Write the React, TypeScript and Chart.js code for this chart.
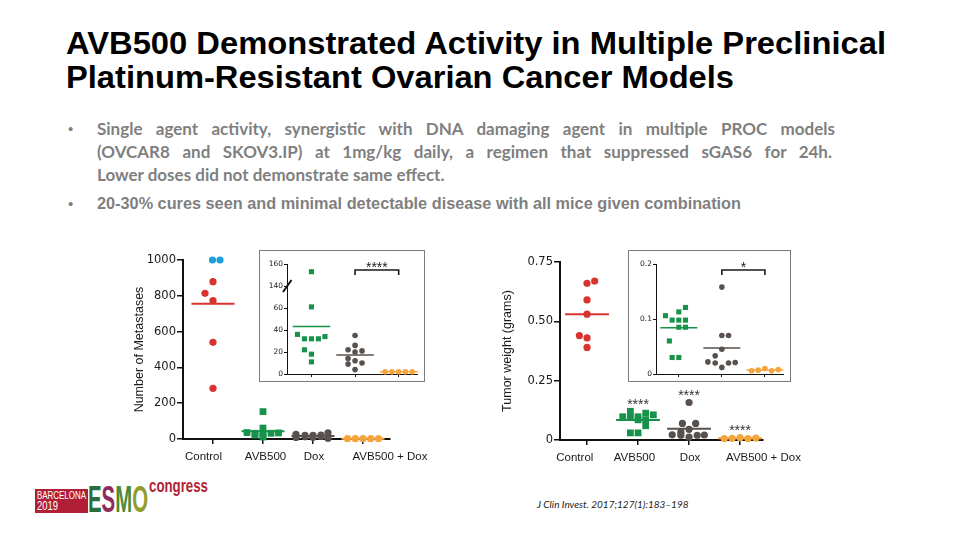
import React, { useEffect, useLayoutEffect, useRef } from 'react';
import { Chart, registerables } from 'chart.js';

Chart.register(...registerables);

// ---------------- DATA ----------------
const categories = ['Control', 'AVB500', 'Dox', 'AVB500 + Dox'];

// Left: Number of metastases (main + inset with broken axis)
const metControl = [879, 814, 773, 540, 283];
const metControlJitter = [0, -0.16, 0, 0, 0];
const metControlCapped = [1000, 1000];
const metControlCappedJitter = [-0.01, 0.14];
const metAvb = [153, 61, 36, 32, 32, 32, 34, 22, 18, 11];
const metAvbJitter = [0, 0, -0.32, -0.16, 0, 0.16, 0.31, -0.16, 0, 0];
const metDox = [35, 26, 22, 21, 20, 14, 12, 10, 9, 4];
const metDoxJitterMain = [0.3, -0.34, 0.16, -0.16, 0, 0.16, -0.16, 0, -0.34, 0.3];
const metDoxJitterInset = [0, 0, -0.16, 0.16, 0, -0.16, 0, 0.16, -0.16, 0];
const metCombo = [2, 2, 2, 2, 2];
const metComboJitter = [-0.31, -0.155, 0, 0.155, 0.31];
const metTicks = [0, 200, 400, 600, 800, 1000];
const metInsetTicks = [0, 20, 40, 60, 140, 160];
const metInsetBreak = [60, 140];
const metInsetSig = '****';

// Right: Tumor weight (grams)
const twControl = [0.67, 0.66, 0.59, 0.53, 0.44, 0.43, 0.39];
const twControlJitter = [0.15, 0, 0, 0, -0.15, 0, 0];
const twAvb = [0.121, 0.113, 0.106, 0.098, 0.098, 0.098, 0.085, 0.085, 0.06, 0.03, 0.03];
const twAvbJitterMain = [-0.15, 0.15, 0.3, -0.3, 0, -0.15, 0, 0.15, 0.15, -0.15, 0];
const twAvbJitterInset = [0.155, 0, -0.31, -0.155, 0, 0.155, 0, 0.155, -0.22, -0.155, 0];
const twDox = [0.158, 0.07, 0.07, 0.045, 0.033, 0.022, 0.021, 0.02, 0.02, 0.012];
const twDoxJitterMain = [0, -0.13, 0.13, 0, -0.16, -0.33, 0.3, -0.16, 0.16, 0];
const twDoxJitterInset = [0, 0, 0.155, 0, -0.155, -0.325, 0.31, -0.155, 0.155, 0];
const twCombo = [0.006, 0.007, 0.01, 0.006, 0.008];
const twComboJitter = [-0.31, -0.155, 0, 0.155, 0.31];
const twTicks = [0, 0.25, 0.5, 0.75];
const twInsetTicks = [0, 0.1, 0.2];
const twMainSig = ['****', '****', '****'];
const twInsetSig = '*';

// ---------------- STYLE ----------------
const RED = '#d8332c';
const BLUE = '#1e9fdc';
const GREEN = '#17924a';
const GRAY = '#58514d';
const ORANGE = '#f5a53d';
const AXIS = '#111111';
const TXT = '#1a1a1a';
const ARIAL = '"Liberation Sans", Arial, sans-serif';

const mean = (a: number[]) => a.reduce((s, v) => s + v, 0) / a.length;
const pts = (vals: number[], cat: number, jit: number[], map = (v: number) => v) =>
  vals.map((v, i) => ({ x: cat + (jit[i] || 0), y: map(v) }));
const dots = (data: any[], color: string, style: string, r: number) => ({
  data, pointStyle: style, pointRadius: r, backgroundColor: color, borderColor: color,
  borderWidth: 0, clip: false, showLine: false,
});
const HALF = 0.43;
const meanLine = (vals: number[], cat: number, color: string, w: number, map = (v: number) => v) => {
  const m = map(mean(vals));
  return {
    data: [{ x: cat - HALF, y: m }, { x: cat + HALF, y: m }],
    showLine: true, borderColor: color, borderWidth: w, pointRadius: 0, clip: false,
  };
};

// broken-axis transform for the metastasis inset
const brk = (v: number) => (v >= metInsetBreak[1] ? v - (metInsetBreak[1] - metInsetBreak[0]) + 20 : v);
const unbrk = (d: number) => (d > metInsetBreak[0] + 10 ? d + (metInsetBreak[1] - metInsetBreak[0]) - 20 : d);

const annotPlugin = (a: any) => ({
  id: 'annot',
  afterDatasetsDraw(chart: any) {
    const { ctx, chartArea } = chart;
    const x = chart.scales.x;
    const y = chart.scales.y;
    ctx.save();
    if (a.bracket) {
      const b = a.bracket;
      const x1 = x.getPixelForValue(b.from);
      const x2 = x.getPixelForValue(b.to);
      const yy = chartArea.top + 6;
      ctx.strokeStyle = '#1a1a1a';
      ctx.lineWidth = 1.6;
      ctx.beginPath();
      ctx.moveTo(x1, yy + 5); ctx.lineTo(x1, yy); ctx.lineTo(x2, yy); ctx.lineTo(x2, yy + 5);
      ctx.stroke();
      ctx.fillStyle = '#222';
      ctx.font = '14px "Liberation Sans", sans-serif';
      ctx.textAlign = 'center';
      ctx.textBaseline = 'alphabetic';
      ctx.fillText(b.text, (x1 + x2) / 2, yy + 1.5);
    }
    (a.stars || []).forEach((s: any) => {
      ctx.fillStyle = '#333';
      ctx.font = '14px "Liberation Sans", sans-serif';
      ctx.textAlign = 'center';
      ctx.textBaseline = 'alphabetic';
      ctx.fillText(s.text, x.getPixelForValue(s.x), y.getPixelForValue(s.y) - 2.5);
    });
    if (a.breakAt != null) {
      const yy = y.getPixelForValue(a.breakAt);
      const xx = chartArea.left;
      ctx.strokeStyle = '#111';
      ctx.lineWidth = 2;
      ctx.beginPath();
      ctx.moveTo(xx - 4, yy + 6);
      ctx.lineTo(xx + 4.5, yy - 6);
      ctx.stroke();
    }
    ctx.restore();
  },
});

function buildChart(canvas: HTMLCanvasElement, c: any) {
  const scales: any = {
    x: {
      type: 'linear', min: c.xMin, max: c.xMax, position: 'bottom', weight: 0,
      afterBuildTicks: (s: any) => { s.ticks = c.catTicks.map((v: number) => ({ value: v })); },
      ticks: { display: false },
      grid: { drawOnChartArea: false, drawTicks: true, tickLength: c.xTickLen, color: AXIS, lineWidth: c.tickW },
      border: { display: true, color: AXIS, width: c.axisW },
      afterFit: (s: any) => { s.height = c.xAxisH; },
    },
    y: {
      type: 'linear', min: c.yMin, max: c.yMax,
      afterBuildTicks: (s: any) => { s.ticks = c.yTickValues.map((v: number) => ({ value: v })); },
      ticks: { callback: (v: number) => c.yLabel(v), font: c.tickFont, color: TXT, padding: c.tickPad, autoSkip: false },
      grid: { drawOnChartArea: false, drawTicks: true, tickLength: c.yTickLen, color: AXIS, lineWidth: c.tickW },
      border: { display: true, color: AXIS, width: c.axisW },
      title: c.yTitle
        ? { display: true, text: c.yTitle, font: c.titleFont, color: TXT, padding: { top: c.titlePad, bottom: 0 } }
        : { display: false },
      afterFit: (s: any) => { s.width = c.leftW; },
    },
  };
  if (c.labels) {
    scales.xl = {
      type: 'linear', min: c.xMin, max: c.xMax, position: 'bottom', weight: 1,
      afterBuildTicks: (s: any) => { s.ticks = c.labelTicks.map((v: number) => ({ value: v })); },
      ticks: {
        callback: (_v: number, i: number) => c.labels[i], font: c.labelFont, color: TXT,
        padding: c.labelPad, autoSkip: false, maxRotation: 0, minRotation: 0,
      },
      grid: { display: false, drawTicks: false },
      border: { display: false },
      afterFit: (s: any) => { s.height = c.labelH; },
    };
  }
  return new Chart(canvas, {
    type: 'scatter',
    data: { datasets: c.datasets },
    options: {
      responsive: false,
      animation: false,
      events: [],
      layout: { padding: { top: c.padTop, right: c.padRight, left: 0, bottom: 0 } },
      plugins: { legend: { display: false }, tooltip: { enabled: false } },
      scales,
    } as any,
    plugins: [annotPlugin(c.annot || {})],
  });
}

const mainTickFont = { family: '"DejaVu Sans", sans-serif', size: 11.5 };
const insetTickFont = { family: '"DejaVu Sans", sans-serif', size: 7.5 };
const labelFont = { family: ARIAL, size: 11.5 };
const titleFont = { family: ARIAL, size: 12.5 };

// Text condensed horizontally to a given width (narrow fonts are not installed)
function FitText({ left, top, width, style, children }: any) {
  const ref = useRef<HTMLSpanElement>(null);
  useLayoutEffect(() => {
    const el = ref.current;
    if (!el) return;
    el.style.transform = 'none';
    const w = el.getBoundingClientRect().width;
    if (w > 0) el.style.transform = `scaleX(${width / w})`;
  }, [width]);
  return (
    <span
      ref={ref}
      style={{
        position: 'absolute', left, top, whiteSpace: 'nowrap', display: 'inline-block',
        transformOrigin: '0 0', ...style,
      }}
    >
      {children}
    </span>
  );
}

export default function App() {
  const c1 = useRef<HTMLCanvasElement>(null);
  const c2 = useRef<HTMLCanvasElement>(null);
  const c3 = useRef<HTMLCanvasElement>(null);
  const c4 = useRef<HTMLCanvasElement>(null);

  useEffect(() => {
    const charts: Chart[] = [];
    const allMetControl = [...metControlCapped, ...metControl];

    // Left main chart
    charts.push(buildChart(c1.current!, {
      xMin: 0.4, xMax: 4.54, yMin: 0, yMax: 1000, yTickValues: metTicks,
      yLabel: (v: number) => String(v),
      leftW: 63, padTop: 12, padRight: 50, xAxisH: 5, labelH: 29,
      catTicks: [1, 2, 3, 4], labelTicks: [0.81, 2.05, 3.02, 4.54], labels: categories,
      labelFont, labelPad: 6, tickFont: mainTickFont, tickPad: 1, xTickLen: 5, yTickLen: 6,
      tickW: 1.5, axisW: 2, yTitle: 'Number of Metastases', titleFont, titlePad: 12,
      datasets: [
        meanLine(allMetControl, 1, RED, 2),
        meanLine(metAvb, 2, GREEN, 2),
        meanLine(metDox, 3, GRAY, 2),
        meanLine(metCombo, 4, ORANGE, 2),
        dots(pts(metControl, 1, metControlJitter), RED, 'circle', 3.6),
        dots(pts(metControlCapped, 1, metControlCappedJitter), BLUE, 'circle', 3.6),
        dots(pts(metAvb, 2, metAvbJitter), GREEN, 'rect', 4.8),
        dots(pts(metDox, 3, metDoxJitterMain), GRAY, 'circle', 3.6),
        dots(pts(metCombo, 4, metComboJitter), ORANGE, 'circle', 3.6),
      ],
    }));

    // Left inset (broken axis)
    charts.push(buildChart(c2.current!, {
      xMin: 0.44, xMax: 3.42, yMin: 0, yMax: brk(metInsetTicks[metInsetTicks.length - 1]),
      yTickValues: metInsetTicks.map(brk), yLabel: (d: number) => String(unbrk(d)),
      leftW: 27, padTop: 13, padRight: 7, xAxisH: 7,
      catTicks: [1, 2, 3], tickFont: insetTickFont, tickPad: 1, xTickLen: 3, yTickLen: 3,
      tickW: 1, axisW: 1,
      annot: { bracket: { from: 2, to: 3, text: metInsetSig }, breakAt: brk(metInsetBreak[1]) },
      datasets: [
        meanLine(metAvb, 1, GREEN, 1.5, brk),
        meanLine(metDox, 2, GRAY, 1.5, brk),
        meanLine(metCombo, 3, ORANGE, 1.5, brk),
        dots(pts(metAvb, 1, metAvbJitter, brk), GREEN, 'rect', 3.6),
        dots(pts(metDox, 2, metDoxJitterInset, brk), GRAY, 'circle', 2.8),
        dots(pts(metCombo, 3, metComboJitter, brk), ORANGE, 'circle', 2.8),
      ],
    }));

    // Right main chart
    charts.push(buildChart(c3.current!, {
      xMin: 0.47, xMax: 4.45, yMin: 0, yMax: 0.75, yTickValues: twTicks,
      yLabel: (v: number) => (v === 0 ? '0' : v.toFixed(2)),
      leftW: 70, padTop: 14, padRight: 47, xAxisH: 5, labelH: 28,
      catTicks: [1, 2, 3, 4], labelTicks: [0.76, 1.93, 3.02, 4.46], labels: categories,
      labelFont, labelPad: 6, tickFont: mainTickFont, tickPad: 1, xTickLen: 5, yTickLen: 6,
      tickW: 1.5, axisW: 2, yTitle: 'Tumor weight (grams)', titleFont, titlePad: 10,
      annot: {
        stars: [
          { x: 2, y: Math.max(...twAvb), text: twMainSig[0] },
          { x: 3, y: Math.max(...twDox), text: twMainSig[1] },
          { x: 4, y: Math.max(...twCombo), text: twMainSig[2] },
        ],
      },
      datasets: [
        meanLine(twControl, 1, RED, 2),
        meanLine(twAvb, 2, GREEN, 2),
        meanLine(twDox, 3, GRAY, 2),
        meanLine(twCombo, 4, ORANGE, 2),
        dots(pts(twControl, 1, twControlJitter), RED, 'circle', 3.6),
        dots(pts(twAvb, 2, twAvbJitterMain), GREEN, 'rect', 4.8),
        dots(pts(twDox, 3, twDoxJitterMain), GRAY, 'circle', 3.6),
        dots(pts(twCombo, 4, twComboJitter), ORANGE, 'circle', 3.6),
      ],
    }));

    // Right inset
    charts.push(buildChart(c4.current!, {
      xMin: 0.47, xMax: 3.42, yMin: 0, yMax: 0.2, yTickValues: twInsetTicks,
      yLabel: (v: number) => (v === 0 ? '0' : v.toFixed(1)),
      leftW: 27, padTop: 13, padRight: 7, xAxisH: 7,
      catTicks: [1, 2, 3], tickFont: insetTickFont, tickPad: 1, xTickLen: 3, yTickLen: 3,
      tickW: 1, axisW: 1,
      annot: { bracket: { from: 2, to: 3, text: twInsetSig } },
      datasets: [
        meanLine(twAvb, 1, GREEN, 1.5),
        meanLine(twDox, 2, GRAY, 1.5),
        meanLine(twCombo, 3, ORANGE, 1.5),
        dots(pts(twAvb, 1, twAvbJitterInset), GREEN, 'rect', 3.6),
        dots(pts(twDox, 2, twDoxJitterInset), GRAY, 'circle', 2.8),
        dots(pts(twCombo, 3, twComboJitter), ORANGE, 'circle', 2.8),
      ],
    }));

    return () => { charts.forEach((c) => c.destroy()); };
  }, []);

  const abs = (l: number, t: number, extra: any = {}) => ({ position: 'absolute' as const, left: l, top: t, ...extra });
  const bulletText = { font: 'bold 17px Lato, "Noto Sans", sans-serif', color: '#7f7f7f', lineHeight: '23px' };
  const titleStyle = { font: `bold 32px ${ARIAL}`, lineHeight: '33px', color: '#000' };

  return (
    <div style={{ position: 'fixed', left: 0, top: 0, width: 960, height: 540, background: '#fff', overflow: 'hidden' }}>
      {/* Title */}
      <FitText left={66} top={27} width={820} style={titleStyle}>
        AVB500 Demonstrated Activity in Multiple Preclinical
      </FitText>
      <FitText left={66} top={61} width={668} style={titleStyle}>
        Platinum-Resistant Ovarian Cancer Models
      </FitText>

      {/* Bullets */}
      <div style={abs(68, 117, { ...bulletText, font: `15px ${ARIAL}` })}>•</div>
      <div style={abs(97, 117, { ...bulletText, width: 738, textAlign: 'justify', textAlignLast: 'justify', whiteSpace: 'normal' })}>
        Single agent activity, synergistic with DNA damaging agent in multiple PROC models
      </div>
      <div style={abs(97, 140, { ...bulletText, width: 735, textAlign: 'justify', textAlignLast: 'justify', whiteSpace: 'normal' })}>
        (OVCAR8 and SKOV3.IP) at 1mg/kg daily, a regimen that suppressed sGAS6 for 24h.
      </div>
      <div style={abs(97, 163, { ...bulletText, whiteSpace: 'nowrap' })}>
        Lower doses did not demonstrate same effect.
      </div>
      <div style={abs(68, 192, { ...bulletText, font: `15px ${ARIAL}` })}>•</div>
      <FitText left={97} top={192} width={644} style={{ ...bulletText, font: `bold 17px ${ARIAL}` }}>
        20-30% cures seen and minimal detectable disease with all mice given combination
      </FitText>

      {/* Charts */}
      <canvas ref={c1} width={320} height={225} style={abs(120, 248)} />
      <canvas ref={c3} width={320} height={225} style={abs(490, 248)} />
      <div style={abs(259, 250, { width: 166, height: 132, boxSizing: 'border-box', border: '1.5px solid #7a7a7a', background: '#fff' })} />
      <canvas ref={c2} width={164} height={130} style={abs(260, 251)} />
      <div style={abs(628, 250, { width: 163, height: 132, boxSizing: 'border-box', border: '1.5px solid #7a7a7a', background: '#fff' })} />
      <canvas ref={c4} width={161} height={130} style={abs(629, 251)} />

      {/* Citation */}
      <div style={abs(537, 498, { font: 'italic 10px Lato, "Liberation Sans", sans-serif', color: '#222', whiteSpace: 'nowrap' })}>
        J Clin Invest. 2017;127(1):183–198
      </div>

      {/* Logo */}
      <div style={abs(35, 489, { width: 53, height: 24, background: '#b01f35' })} />
      <FitText left={37} top={490} width={49} style={{ font: `10.5px ${ARIAL}`, color: '#fff', lineHeight: '11px' }}>
        BARCELONA
      </FitText>
      <FitText left={37} top={500} width={21} style={{ font: `12.5px ${ARIAL}`, color: '#fff', lineHeight: '12px' }}>
        2019
      </FitText>
      <FitText left={88} top={480} width={60} style={{ font: `bold 36px ${ARIAL}`, lineHeight: '40px' }}>
        <span style={{ color: '#2b6c3c' }}>E</span>
        <span style={{ color: '#8e2c5e' }}>S</span>
        <span style={{ color: '#4f8a36' }}>M</span>
        <span style={{ color: '#939b2c' }}>O</span>
      </FitText>
      <FitText left={149} top={475} width={59} style={{ font: `bold 19px ${ARIAL}`, color: '#b01f35', lineHeight: '22px' }}>
        congress
      </FitText>
    </div>
  );
}
